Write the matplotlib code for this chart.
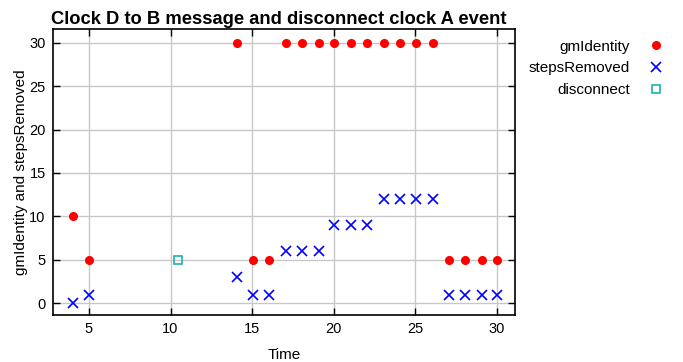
import numpy as np
import matplotlib
matplotlib.use("Agg")
import matplotlib.pyplot as plt

plt.rcParams["font.family"] = ["Liberation Sans", "DejaVu Sans"]

# sample times (s) and values
times = [4.04, 5.02, 14.05, 15.04, 16.06, 17.08, 18.05, 19.1, 20.05, 21.08,
         22.07, 23.09, 24.04, 25.07, 26.07, 27.09, 28.03, 29.07, 30.04]
gm_identity = [10, 5, 30, 5, 5, 30, 30, 30, 30, 30,
               30, 30, 30, 30, 30, 5, 5, 5, 5]
steps_removed = [0, 1, 3, 1, 1, 6, 6, 6, 9, 9,
                 9, 12, 12, 12, 12, 1, 1, 1, 1]
disconnect_t = [10.46]
disconnect_v = [5]

fig = plt.figure(figsize=(6.83, 3.62), dpi=100)
ax = fig.add_axes([0.077, 0.13, 0.677, 0.789])

ax.plot(times, gm_identity, "o", color="#ff0000", markersize=5.5,
        linestyle="none", label="gmIdentity")
ax.plot(times, steps_removed, "x", color="#0000ff", markersize=7,
        markeredgewidth=1.2, linestyle="none", label="stepsRemoved")
ax.plot(disconnect_t, disconnect_v, "s", color="#1fb0b0", markersize=6,
        markerfacecolor="none", markeredgewidth=1.2, linestyle="none",
        label="disconnect")

ax.set_xlim(2.77, 31.12)
ax.set_ylim(-1.35, 31.54)
ax.set_xticks([5, 10, 15, 20, 25, 30])
ax.set_yticks([0, 5, 10, 15, 20, 25, 30])
ax.grid(True, color="#c8c8c8", linewidth=1)
ax.set_axisbelow(True)
ax.tick_params(direction="in", top=True, right=True, length=5,
               labelsize=10.5, width=1, pad=5)
for s in ax.spines.values():
    s.set_linewidth(1.2)

ax.set_title("Clock D to B message and disconnect clock A event",
             fontsize=13.2, fontweight="bold", pad=4, x=0.489)
ax.set_xlabel("Time", fontsize=11, labelpad=9)
ax.set_ylabel("gmIdentity and stepsRemoved", fontsize=11, labelpad=1)

ax.legend(loc="upper left", bbox_to_anchor=(1.0, 1.012), frameon=False,
          markerfirst=False, fontsize=11, handlelength=1.2,
          handletextpad=1.1, labelspacing=0.5, borderaxespad=0.5)
leg = ax.get_legend()
for t in leg.get_texts():
    t.set_ha("right")
leg._legend_box.align = "right"

fig.savefig("out.png", dpi=100)
